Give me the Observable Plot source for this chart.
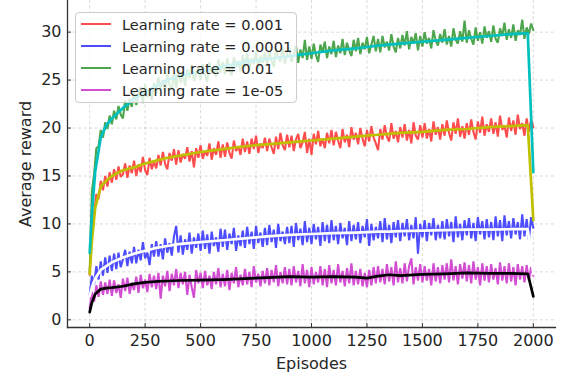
<!DOCTYPE html>
<html><head><meta charset="utf-8">
<script src="https://cdn.jsdelivr.net/npm/d3@7"></script>
<script src="https://cdn.jsdelivr.net/npm/@observablehq/plot@0.6"></script>
<style>
body{margin:0;background:#fff;}
#wrap{position:relative;width:561px;height:373px;font-family:"DejaVu Sans",sans-serif;overflow:hidden;}
.legend{position:absolute;left:75px;top:12px;width:222px;height:91px;box-sizing:border-box;background:rgba(255,255,255,0.8);border:1px solid #cccccc;border-radius:4px;}
.legend .row{position:absolute;left:0;height:22px;display:flex;align-items:center;font-size:14.6px;color:#262626;white-space:nowrap;}
.legend .sw{width:30px;height:2px;margin-left:5px;margin-right:11px;}
</style></head>
<body><div id="wrap"></div>
<script>
const labels = ["Learning rate = 0.001", "Learning rate = 0.0001", "Learning rate = 0.01", "Learning rate = 1e-05"];
const rawColors = ["#ff4d4d", "#4d4dff", "#4da64d", "#d24dd2"];
const smoothColors = ["#bfbf00", "#ffffff", "#00bfbf", "#000000"];
const xTicks = [0, 250, 500, 750, 1000, 1250, 1500, 1750, 2000];
const yTicks = [0, 5, 10, 15, 20, 25, 30];
const episodeStep = 10;

const rewards001 = [
4.7, 9.6, 11.0, 13.1, 12.6, 14.5, 13.5, 15.0, 13.9, 15.4,
14.3, 15.7, 14.6, 16.0, 14.9, 15.2, 16.3, 14.8, 16.1, 15.3,
16.6, 15.0, 16.2, 15.4, 17.0, 15.6, 15.1, 16.9, 15.7, 16.5,
15.8, 17.2, 16.1, 17.5, 16.3, 15.7, 17.4, 16.6, 17.8, 16.2,
17.7, 16.4, 17.3, 16.8, 18.0, 16.5, 17.6, 15.9, 17.9, 16.9,
18.2, 16.8, 17.6, 17.1, 18.4, 16.7, 17.9, 17.2, 18.6, 16.9,
18.3, 17.0, 18.5, 17.4, 16.8, 18.7, 17.6, 18.1, 17.2, 18.9,
17.5, 18.6, 17.3, 18.9, 17.8, 19.2, 17.4, 18.4, 17.9, 19.0,
17.6, 18.9, 18.0, 17.3, 19.1, 17.8, 19.5, 18.2, 17.7, 19.3,
18.0, 19.2, 17.6, 18.8, 19.4, 17.9, 18.5, 19.6, 17.4, 18.9,
17.2, 19.4, 18.3, 19.7, 18.1, 18.9, 17.9, 19.5, 18.4, 19.8,
18.2, 19.6, 18.7, 17.9, 19.9, 18.5, 19.3, 18.0, 20.1, 18.8,
19.5, 18.3, 20.0, 18.9, 18.1, 19.8, 18.6, 20.2, 19.0, 18.4,
17.7, 19.9, 18.8, 20.3, 19.1, 18.6, 20.5, 18.9, 19.7, 18.5,
20.1, 19.0, 20.4, 18.7, 19.8, 18.4, 20.6, 19.2, 18.8, 20.3,
19.0, 20.5, 18.9, 19.9, 18.6, 20.7, 19.3, 20.1, 18.8, 20.4,
19.2, 20.8, 19.5, 18.7, 20.6, 19.4, 21.0, 19.1, 20.2, 18.9,
20.5, 19.3, 20.9, 19.6, 18.8, 20.7, 19.5, 21.2, 19.2, 20.4,
19.6, 21.0, 19.4, 20.6, 19.1, 21.3, 19.8, 20.3, 19.0, 21.1,
19.7, 20.8, 19.3, 21.4, 19.9, 20.5, 19.2, 21.0, 19.6, 20.9,
20.1];

const rewards0001 = [
2.6, 4.6, 3.7, 5.6, 4.2, 6.1, 4.6, 6.5, 4.9, 6.7,
5.1, 6.9, 5.3, 7.0, 5.5, 6.3, 7.3, 5.6, 7.1, 5.9,
7.6, 5.9, 7.3, 6.2, 8.1, 6.4, 7.0, 5.7, 7.9, 6.6,
8.2, 6.6, 7.9, 6.3, 8.5, 7.0, 8.0, 6.7, 8.7, 9.8,
7.0, 8.8, 6.8, 8.4, 7.3, 9.1, 6.9, 8.6, 7.5, 9.0,
7.2, 9.3, 7.4, 8.9, 6.9, 9.2, 7.7, 8.6, 7.1, 9.5,
7.6, 9.4, 7.3, 9.0, 7.9, 9.6, 7.2, 8.8, 7.7, 9.3,
7.5, 9.7, 7.9, 9.2, 7.4, 9.8, 8.0, 9.1, 7.6, 9.6,
7.8, 9.9, 8.1, 9.4, 7.5, 10.0, 8.2, 9.2, 7.9, 9.7,
8.0, 9.8, 7.6, 10.1, 8.3, 9.5, 7.8, 10.3, 8.1, 9.6,
7.9, 10.0, 8.4, 9.7, 7.7, 10.2, 8.2, 9.9, 8.0, 10.4,
8.3, 9.8, 7.9, 10.1, 8.5, 9.6, 7.8, 10.3, 8.2, 9.9,
8.4, 10.2, 8.0, 9.8, 8.6, 10.5, 7.7, 10.0, 8.3, 9.7,
8.5, 10.3, 8.1, 10.6, 8.4, 9.9, 8.0, 10.2, 8.6, 10.4,
8.2, 10.1, 8.7, 10.5, 8.3, 9.9, 8.5, 10.7, 6.9, 10.0,
8.6, 10.4, 8.2, 10.1, 8.8, 10.6, 8.3, 9.9, 8.5, 10.3,
8.4, 10.5, 8.7, 10.2, 8.1, 10.8, 8.6, 10.0, 8.3, 10.4,
8.8, 10.6, 8.5, 10.1, 8.2, 10.7, 8.9, 10.3, 8.4, 10.5,
8.6, 10.2, 8.3, 10.8, 8.7, 10.4, 8.2, 10.9, 8.8, 10.3,
8.5, 10.6, 8.9, 10.2, 8.4, 11.0, 8.7, 10.5, 8.3, 10.7,
9.6];

const rewards01 = [
5.0, 13.4, 15.2, 17.9, 18.1, 19.8, 19.0, 20.6, 19.9, 21.3,
20.4, 21.8, 20.9, 22.3, 21.4, 21.0, 22.9, 21.8, 23.1, 22.2,
23.9, 22.4, 23.5, 24.3, 22.6, 24.6, 23.2, 24.0, 22.9, 24.7,
23.6, 25.3, 24.1, 25.0, 23.8, 25.7, 24.5, 23.9, 25.8, 24.2,
26.3, 24.7, 25.8, 24.4, 26.1, 25.2, 26.6, 24.9, 25.7, 26.4,
25.0, 26.7, 25.5, 24.8, 26.9, 25.7, 26.2, 25.3, 27.2, 25.8,
26.9, 25.6, 27.3, 26.0, 25.5, 27.4, 26.4, 27.0, 25.9, 27.6,
26.3, 27.8, 26.1, 27.3, 26.7, 28.0, 26.2, 27.5, 26.8, 27.9,
26.5, 28.1, 27.0, 26.4, 28.3, 27.4, 26.9, 28.4, 26.7, 27.8,
28.4, 26.9, 27.7, 28.6, 26.8, 28.2, 27.3, 29.2, 27.1, 28.5,
27.2, 28.8, 27.6, 26.9, 28.7, 27.9, 29.0, 27.3, 28.5, 27.7,
29.1, 27.4, 28.6, 27.8, 29.3, 27.6, 28.9, 28.1, 27.5, 29.2,
28.0, 29.4, 27.7, 28.9, 28.2, 29.5, 27.8, 28.7, 29.6, 28.0,
29.3, 27.9, 29.6, 28.4, 29.0, 28.1, 29.8, 28.5, 27.9, 29.4,
28.3, 29.7, 28.6, 30.1, 28.2, 29.5, 28.8, 29.9, 28.1, 29.6,
28.5, 30.0, 28.8, 29.4, 28.3, 30.2, 29.1, 28.6, 29.8, 28.9,
30.3, 28.7, 29.6, 28.5, 30.4, 29.2, 28.8, 30.1, 29.0, 31.2,
28.9, 30.2, 29.3, 28.7, 30.5, 29.1, 30.0, 28.8, 30.6, 29.4,
30.1, 29.0, 30.7, 29.3, 28.9, 30.4, 29.6, 31.0, 29.2, 30.3,
29.4, 30.8, 29.1, 30.2, 29.7, 31.3, 29.3, 30.5, 29.8, 30.9,
30.2];

const rewards1e05 = [
1.2, 2.9, 1.9, 3.6, 2.4, 4.0, 2.6, 3.9, 2.7, 4.2,
2.5, 4.1, 2.8, 3.7, 2.3, 4.3, 3.0, 4.4, 2.7, 3.9,
3.1, 4.5, 2.8, 4.7, 3.3, 4.2, 2.9, 4.8, 3.4, 4.6,
3.2, 4.9, 2.2, 4.6, 3.5, 5.1, 3.0, 4.8, 3.6, 5.3,
3.3, 4.9, 3.7, 5.0, 2.6, 4.7, 3.4, 2.3, 5.2, 3.8,
4.9, 3.3, 5.1, 3.6, 4.6, 3.2, 5.0, 3.7, 5.4, 3.4,
4.8, 3.5, 5.2, 3.1, 4.9, 3.8, 5.5, 3.4, 4.7, 3.6,
5.3, 3.7, 5.0, 3.4, 5.6, 3.9, 4.8, 3.5, 5.1, 3.8,
5.4, 3.6, 5.2, 3.9, 5.7, 3.5, 5.0, 3.8, 5.5, 3.7,
5.3, 3.6, 5.6, 3.9, 5.1, 3.5, 5.8, 3.8, 5.2, 3.4,
5.5, 3.7, 5.0, 3.9, 5.6, 3.6, 5.3, 3.4, 5.7, 3.8,
5.2, 3.6, 5.8, 3.9, 5.1, 3.5, 5.4, 3.8, 5.9, 3.6,
5.1, 3.7, 5.3, 3.5, 4.9, 3.4, 5.2, 3.6, 5.5, 3.8,
5.6, 3.9, 5.3, 3.7, 5.8, 4.0, 5.5, 3.6, 6.1, 3.9,
5.4, 3.8, 5.9, 4.0, 5.6, 6.4, 3.7, 5.5, 4.1, 5.8,
3.9, 5.6, 4.1, 5.3, 3.6, 5.9, 4.0, 5.5, 3.8, 5.7,
4.2, 5.9, 3.9, 6.3, 4.1, 5.6, 3.7, 5.8, 4.3, 6.0,
4.0, 5.7, 3.8, 6.1, 4.2, 5.5, 3.6, 5.9, 4.1, 5.6,
3.9, 5.8, 4.2, 5.4, 3.7, 6.0, 4.1, 5.6, 3.8, 5.9,
4.0, 5.5, 3.6, 5.8, 4.2, 5.6, 3.9, 5.7, 4.1, 5.5,
4.6];

const smoothEpisodes = [0, 10, 25, 50, 75, 100, 150, 200, 250, 300, 350, 400, 500, 600, 700, 800, 900, 1000, 1100, 1200, 1250, 1300, 1350, 1400, 1500, 1600, 1700, 1800, 1900, 1975, 2000];
const smooth001 = [4.8, 8.2, 11.7, 13.9, 14.5, 15.0, 15.6, 15.9, 16.3, 16.6, 16.9, 17.1, 17.5, 17.8, 18.1, 18.3, 18.5, 18.7, 18.9, 19.1, 19.2, 19.3, 19.4, 19.5, 19.6, 19.8, 19.9, 20.1, 20.2, 20.3, 10.4];
const smooth0001 = [2.5, 3.4, 4.3, 5.2, 5.6, 6.0, 6.5, 6.9, 7.2, 7.5, 7.7, 7.9, 8.1, 8.3, 8.5, 8.7, 8.85, 8.95, 9.05, 9.1, 9.15, 9.2, 9.2, 9.25, 9.3, 9.35, 9.4, 9.4, 9.45, 9.45, 4.8];
const smooth01 = [7.0, 11.0, 15.5, 19.0, 20.3, 21.0, 22.1, 23.0, 23.7, 24.4, 25.0, 25.4, 25.9, 26.4, 26.9, 27.2, 27.5, 27.8, 28.1, 28.3, 28.45, 28.6, 28.7, 28.8, 29.0, 29.2, 29.4, 29.6, 29.8, 29.9, 15.4];
const smooth1e05 = [0.8, 1.8, 2.7, 3.2, 3.3, 3.35, 3.5, 3.75, 3.9, 4.0, 4.05, 4.1, 4.15, 4.2, 4.3, 4.4, 4.5, 4.45, 4.5, 4.45, 4.35, 4.55, 4.7, 4.6, 4.75, 4.8, 4.9, 4.85, 4.85, 4.8, 2.45];

const rawSeries = [rewards001, rewards0001, rewards01, rewards1e05];
const smoothSeries = [smooth001, smooth0001, smooth01, smooth1e05];

const rawData = rawSeries.map(arr => arr.map((v, i) => ({episode: i * episodeStep, reward: v})));
const smoothData = smoothSeries.map(arr => arr.map((v, i) => ({episode: smoothEpisodes[i], reward: v})));

const font = '"DejaVu Sans", sans-serif';
const chart = Plot.plot({
  width: 561, height: 373,
  marginLeft: 67, marginRight: 6, marginTop: 0, marginBottom: 46,
  style: {fontFamily: font, fontSize: "16px", color: "#262626", background: "white"},
  x: {domain: [-100, 2100]},
  y: {domain: [-0.8, 33.3]},
  marks: [
    Plot.gridX(xTicks, {stroke: "#b0b0b0", strokeOpacity: 0.6, strokeDasharray: "3,2.5", strokeWidth: 0.8}),
    Plot.gridY(yTicks, {stroke: "#b0b0b0", strokeOpacity: 0.6, strokeDasharray: "3,2.5", strokeWidth: 0.8}),
    ...rawData.map((d, i) => Plot.line(d, {x: "episode", y: "reward", stroke: rawColors[i], strokeWidth: 2.1, strokeLinejoin: "miter"})),
    ...smoothData.map((d, i) => Plot.line(d, {x: "episode", y: "reward", stroke: smoothColors[i], strokeWidth: 2.7})),
    Plot.axisX({ticks: xTicks, tickFormat: d => String(d), tickSize: -4, tickPadding: 11, stroke: "#333", label: "Episodes", labelAnchor: "center", labelArrow: "none", labelOffset: 41, fontSize: 16}),
    Plot.axisY({ticks: yTicks, tickFormat: d => String(d), tickSize: -4, tickPadding: 10, stroke: "#333", label: "Average reward", labelAnchor: "center", labelArrow: "none", labelOffset: 48, fontSize: 16}),
    Plot.frame({anchor: "left", stroke: "#333", strokeWidth: 1.3}),
    Plot.frame({anchor: "bottom", stroke: "#333", strokeWidth: 1.3})
  ]
});
const wrap = document.getElementById("wrap");
wrap.appendChild(chart);

const legend = document.createElement("div");
legend.className = "legend";
labels.forEach((lab, i) => {
  const row = document.createElement("div");
  row.className = "row";
  row.style.top = (0 + 22 * i) + "px";
  const sw = document.createElement("span");
  sw.className = "sw";
  sw.style.background = rawColors[i];
  const t = document.createElement("span");
  t.textContent = lab;
  row.appendChild(sw); row.appendChild(t);
  legend.appendChild(row);
});
wrap.appendChild(legend);
</script>
</body></html>
